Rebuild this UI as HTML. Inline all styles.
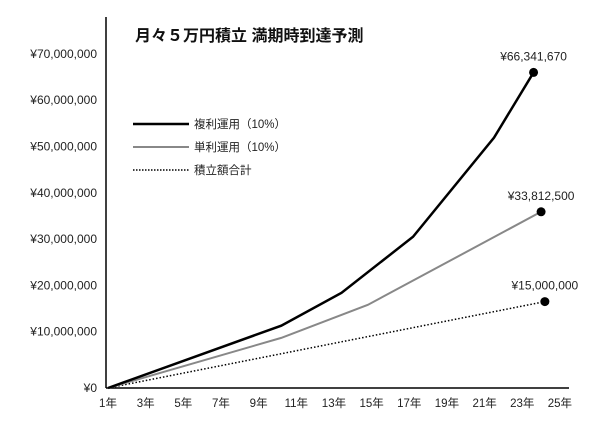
<!DOCTYPE html>
<html><head><meta charset="utf-8"><style>
html,body{margin:0;padding:0;background:#fff;width:600px;height:425px;overflow:hidden}
svg text{font-family:"Liberation Sans","Noto Sans CJK JP",sans-serif}
</style></head><body>
<svg id="chart" width="600" height="425" viewBox="0 0 600 425" xmlns="http://www.w3.org/2000/svg">
<text x="135" y="41" font-size="16" font-weight="bold" fill="#111">月々５万円積立 満期時到達予測</text>
<line x1="106" y1="17" x2="106" y2="388" stroke="#000" stroke-width="1.5"/>
<line x1="106" y1="388" x2="569" y2="388" stroke="#000" stroke-width="1.5"/>
<g id="yt"></g><g id="xt"></g><g id="series"></g>
<g>
<line x1="133" y1="124" x2="189" y2="124" stroke="#000" stroke-width="2.5"/>
<text x="194" y="128" font-size="11.5" fill="#222">複利運用（10%）</text>
<line x1="133" y1="147" x2="189" y2="147" stroke="#888" stroke-width="2"/>
<text x="194" y="151" font-size="11.5" fill="#222">単利運用（10%）</text>
<line x1="133" y1="170" x2="189" y2="170" stroke="#000" stroke-width="1.5" stroke-dasharray="1.5,1.5"/>
<text x="194" y="174" font-size="11.5" fill="#222">積立額合計</text>
</g>
</svg>
<script>
const yTicks=[0,10,20,30,40,50,60,70];
const yTickLabels=["¥0","¥10,000,000","¥20,000,000","¥30,000,000","¥40,000,000","¥50,000,000","¥60,000,000","¥70,000,000"];
const xTicks=[1,3,5,7,9,11,13,15,17,19,21,23,25];
const compoundYears=[1,10.2,13.4,17.2,21.5,23.6];
const compoundValues=[0,11.3,18.4,30.5,51.9,66.0];
const simpleYears=[1,10.2,14.8,24];
const simpleValues=[0,8.9,15.8,35.9];
const totalYears=[1,24.2];
const totalValues=[0,16.5];
const endLabels=["¥66,341,670","¥33,812,500","¥15,000,000"];
const NS="http://www.w3.org/2000/svg";
function xs(y){return 108+(y-1)*18.83;}
function ys(v){return v<10?388-v*5.63:331.7-(v-10)*4.63;}
function mk(tag,attrs,parent){const e=document.createElementNS(NS,tag);for(const k in attrs)e.setAttribute(k,attrs[k]);parent.appendChild(e);return e;}
const yt=document.getElementById('yt'),xt=document.getElementById('xt'),sg=document.getElementById('series');
yTicks.forEach((t,i)=>{const e=mk('text',{x:97,y:ys(t)+4,'text-anchor':'end','font-size':'12',fill:'#222'},yt);e.textContent=yTickLabels[i];

});
xTicks.forEach(t=>{const e=mk('text',{x:xs(t),y:407,'text-anchor':'middle','font-size':'11.5',fill:'#222'},xt);e.textContent=t+'年';

});
function series(yrs,vals,name,attrs,label){
const p=mk('polyline',Object.assign({points:yrs.map((y,i)=>xs(y)+','+ys(vals[i])).join(' '),fill:'none'},attrs),sg);


const n=yrs.length-1,cx=xs(yrs[n]),cy=ys(vals[n]);
const c=mk('circle',{cx:cx,cy:cy,r:4.5,fill:'#000'},sg);


const t=mk('text',{x:cx,y:cy-12,'text-anchor':'middle','font-size':'12',fill:'#222'},sg);t.textContent=label;


}
series(totalYears,totalValues,'total',{stroke:'#000','stroke-width':1.5,'stroke-dasharray':'1.5,2'},endLabels[2]);
series(simpleYears,simpleValues,'simple',{stroke:'#888','stroke-width':2},endLabels[1]);
series(compoundYears,compoundValues,'compound',{stroke:'#000','stroke-width':2.5},endLabels[0]);
</script>
</body></html>
